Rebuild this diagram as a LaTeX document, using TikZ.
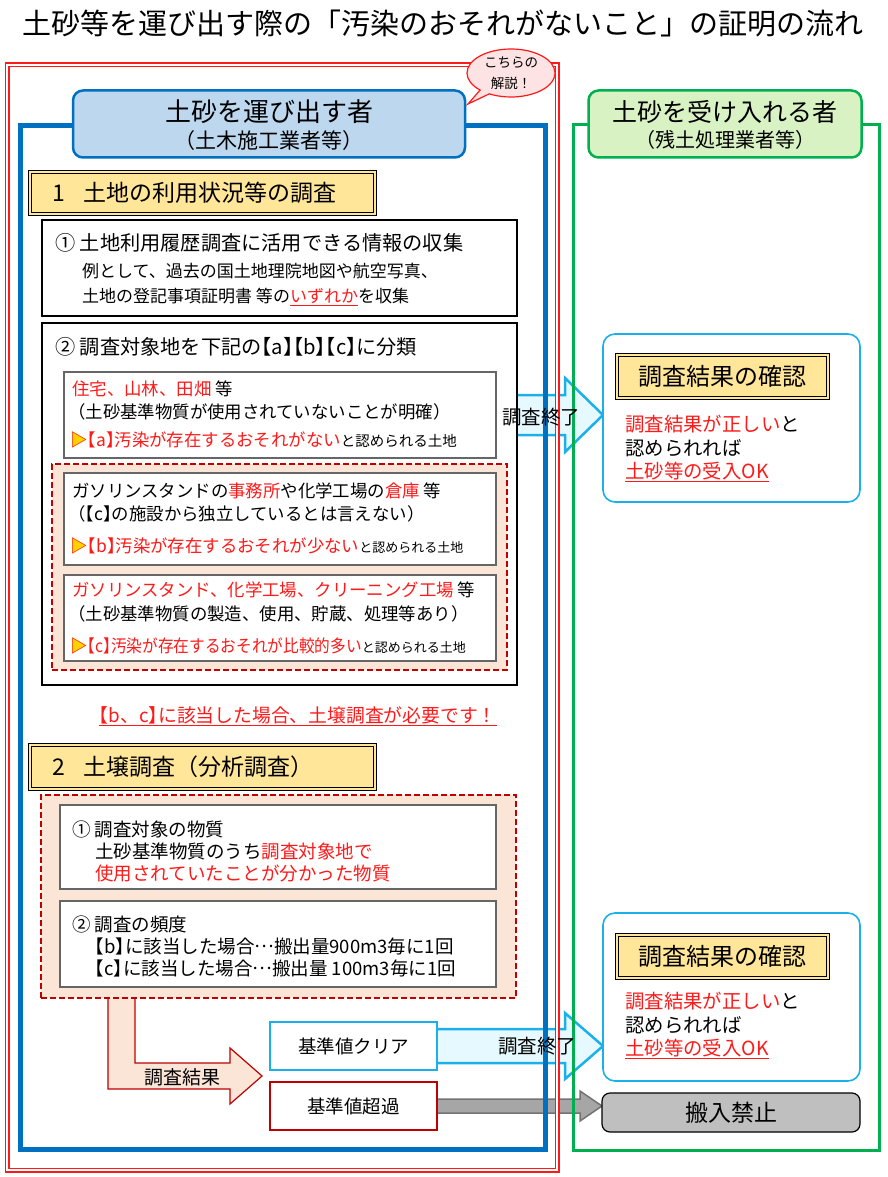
\documentclass[tikz,border=0pt]{standalone}
\usepackage{fontspec}
\setmainfont{Noto Sans CJK JP}
\newfontfamily\haltfont{Noto Sans CJK JP}[CharacterWidth=AlternateHalf]
\usepackage{graphicx}
\usetikzlibrary{calc,backgrounds,shapes.callouts}

\definecolor{frameblue}{HTML}{0070C0}
\definecolor{headblue}{HTML}{BDD7EE}
\definecolor{framegreen}{HTML}{00B050}
\definecolor{headgreen}{HTML}{D8F2C4}
\definecolor{titleyellow}{HTML}{FFE699}
\definecolor{peach}{HTML}{FBE5D6}
\definecolor{darkred}{HTML}{C00000}
\definecolor{skyline}{HTML}{1CB0EA}
\definecolor{skyfill}{HTML}{E6F9FF}
\definecolor{txtred}{HTML}{FF1A1A}
\definecolor{bubblepink}{HTML}{FDE3E3}
\definecolor{tri}{HTML}{FFD200}

\newcommand{\fsz}[1]{\fontsize{#1}{#1}\selectfont}
\newcommand{\rd}[1]{\textcolor{txtred}{#1}}
\newcommand{\bk}[1]{{\haltfont【}#1{\haltfont】}}
\newcommand{\cdotsjp}{\raisebox{0.3em}{…}}
\newcommand{\marktri}{\rlap{\textcolor{tri}{▶}}\textcolor{txtred}{▷}}

\tikzset{
  box/.style={draw, anchor=north west, inner sep=0pt, outer sep=0pt, fill=white},
  sect/.style={box, line width=1.2pt, double=titleyellow, double distance=1.6pt, fill=titleyellow},
  region/.style={box, draw=darkred, fill=peach, line width=2pt, dash pattern=on 6pt off 3pt},
  chk/.style={box, draw=skyline, line width=1.6pt, rounded corners=12pt},
  txt/.style={anchor=west, inner sep=0pt},
  blockarrow/.style={draw=skyline, fill=skyfill, line width=2.5pt, line join=miter},
}

\begin{document}
\begin{tikzpicture}[x=1pt,y=-1pt]
\useasboundingbox (0,0) rectangle (887,1177);

\node[font=\fsz{29}] (title) at (443,23) {土砂等を運び出す際の「汚染のおそれがないこと」の証明の流れ};

% headers
\node[box, anchor=center, draw=frameblue, fill=headblue, line width=2.5pt, rounded corners=10pt, minimum width=392, minimum height=67] (carrier) at (269,124) {};
\node[font=\fsz{26}] (carrierA) at (269,112) {土砂を運び出す者};
\node[font=\fsz{21}] (carrierB) at (269,141) {（土木施工業者等）};
\node[box, anchor=center, draw=framegreen, fill=headgreen, line width=2.5pt, rounded corners=10pt, minimum width=273, minimum height=67] (receiver) at (725,124) {};
\node[font=\fsz{25}] (receiverA) at (725,112) {土砂を受け入れる者};
\node[font=\fsz{20}] (receiverB) at (725,140) {（残土処理業者等）};
\node[ellipse callout, draw=txtred, fill=bubblepink, line width=1.2pt, inner sep=0pt, minimum width=88, minimum height=48,
  callout absolute pointer={(468,104)}, align=center, font={\fontsize{13.5}{21}\selectfont}] (memo) at (511,73) {こちらの\\解説！};

% 1
\node[sect, minimum width=345, minimum height=42] (sec1) at (30,172) {};
\node[txt, font=\fsz{23}] (sec1t) at (52,193) {1\hspace{0.8em}土地の利用状況等の調査};
\node[box, line width=1.5pt, minimum width=475, minimum height=96] (info) at (42,220) {};
\node[txt, font=\fsz{20.2}] (infoA) at (55,243) {① 土地利用履歴調査に活用できる情報の収集};
\node[txt, font=\fsz{17}] (infoB) at (82,271) {例として、過去の国土地理院地図や航空写真、};
\node[txt, font=\fsz{17}] (infoC) at (82,297) {土地の登記事項証明書 等の\rd{\underline{いずれか}}を収集};

\node[box, line width=1.5pt, minimum width=475, minimum height=362] (classify) at (42,323) {};
\node[txt, font=\fsz{20.2}] (classifyT) at (55,347) {② 調査対象地を下記の\bk{a}\bk{b}\bk{c}に分類};
\node[box, draw=black!60, line width=1.2pt, minimum width=432, minimum height=86] (boxa) at (64,372) {};
\node[txt, font=\fsz{17.4}] (boxaA) at (72,389) {\rd{住宅、山林、田畑} 等};
\node[txt, font=\fsz{17.4}] (boxaB) at (68,412) {（土砂基準物質が使用されていないことが明確）};
\node[txt, font=\fsz{17.4}] (boxaC) at (70,440) {\marktri\rd{\bk{a}汚染が存在するおそれがない}{\fsz{14.5}と認められる土地}};

\node[region, minimum width=455, minimum height=206] (reg1) at (52,464) {};
\node[box, draw=black!60, line width=1.2pt, minimum width=432, minimum height=92] (boxb) at (64,473) {};
\node[txt, font=\fsz{17.4}] (boxbA) at (72,491) {ガソリンスタンドの\rd{事務所}や化学工場の\rd{倉庫} 等};
\node[txt, font=\fsz{17.4}] (boxbB) at (68,514) {（\bk{c}の施設から独立しているとは言えない）};
\node[txt, font=\fsz{17.4}] (boxbC) at (70,546) {\marktri\rd{\bk{b}汚染が存在するおそれが少ない}{\fsz{13}と認められる土地}};
\node[box, draw=black!60, line width=1.2pt, minimum width=432, minimum height=86] (boxc) at (64,575) {};
\node[txt, font=\fsz{17.4}] (boxcA) at (72,590) {\rd{ガソリンスタンド、化学工場、クリーニング工場} 等};
\node[txt, font=\fsz{17.4}] (boxcB) at (68,614) {（土砂基準物質の製造、使用、貯蔵、処理等あり）};
\node[txt, font=\fsz{17.4}] (boxcC) at (70,646) {\marktri\rd{\scalebox{0.9}[1]{\bk{c}汚染が存在するおそれが比較的多い}}{\fsz{13}と認められる土地}};

\node[font=\fsz{18.8}] (need) at (298,716) {\rd{\underline{\bk{b、c}に該当した場合、土壌調査が必要です！}}};

% 2
\node[sect, minimum width=345, minimum height=44] (sec2) at (30,745) {};
\node[txt, font=\fsz{23}] (sec2t) at (52,767) {2\hspace{0.8em}土壌調査（分析調査）};
\node[region, minimum width=475, minimum height=203] (reg2) at (41,795) {};
\node[box, draw=black!60, line width=1.2pt, minimum width=436, minimum height=84] (subst) at (60,805) {};
\node[txt, font=\fsz{18.5}] (substA) at (72,829) {① 調査対象の物質};
\node[txt, font=\fsz{18.5}] (substB) at (95,851) {土砂基準物質のうち\rd{調査対象地で}};
\node[txt, font=\fsz{18.5}] (substC) at (95,873) {\rd{使用されていたことが分かった物質}};
\node[box, draw=black!60, line width=1.2pt, minimum width=436, minimum height=86] (freq) at (60,901) {};
\node[txt, font=\fsz{18.5}] (freqA) at (72,924) {② 調査の頻度};
\node[txt, font=\fsz{18.5}] (freqB) at (95,946) {\bk{b}に該当した場合\cdotsjp 搬出量900m3毎に1回};
\node[txt, font=\fsz{18.5}] (freqC) at (95,968) {\bk{c}に該当した場合\cdotsjp 搬出量 100m3毎に1回};

\node[box, draw=skyline, line width=2.5pt, minimum width=167, minimum height=48] (clear) at (270,1022) {};
\node[font=\fsz{18.5}] (clearT) at (clear.center) {基準値クリア};
\node[box, draw=darkred, line width=2.5pt, minimum width=167, minimum height=48] (over) at (270,1082) {};
\node[font=\fsz{18.5}] (overT) at (over.center) {基準値超過};

% right side
\node[chk, minimum width=257, minimum height=168] (chk1) at (603,334) {};
\node[sect, minimum width=211, minimum height=43] (chk1h) at (617,355) {};
\node[font=\fsz{24}] (chk1t) at (chk1h.center) {調査結果の確認};
\node[txt, font=\fsz{19.4}] (ok1a) at (625,424) {\rd{調査結果が正しい}と};
\node[txt, font=\fsz{19.4}] (ok1b) at (625,448) {認められれば};
\node[txt, font=\fsz{19.4}] (ok1c) at (625,472) {\rd{\underline{土砂等の受入OK}}};

\node[chk, minimum width=257, minimum height=168] (chk2) at (603,913) {};
\node[sect, minimum width=211, minimum height=43] (chk2h) at (617,935) {};
\node[font=\fsz{24}] (chk2t) at (chk2h.center) {調査結果の確認};
\node[txt, font=\fsz{19.4}] (ok2a) at (625,1001) {\rd{調査結果が正しい}と};
\node[txt, font=\fsz{19.4}] (ok2b) at (625,1025) {認められれば};
\node[txt, font=\fsz{19.4}] (ok2c) at (625,1049) {\rd{\underline{土砂等の受入OK}}};

\node[box, fill=black!25, line width=1.2pt, rounded corners=8pt, minimum width=258, minimum height=39] (ban) at (602,1093) {};
\node[font=\fsz{23}] (banT) at (ban.center) {搬入禁止};

% arrows and frames
\coordinate (tipA) at (chk1.west |- boxa.east);
\coordinate (tipB) at (chk2.west |- clear.east);
\coordinate (tipC) at (ban.west |- over.east);
\coordinate (tipD) at ($(clear.south west)!.5!(over.north west)+(-8,0)$);
\node[font=\fsz{19.5}] (doneA) at ($(tipA)+(-62,2)$) {調査終了};
\node[font=\fsz{19.5}] (doneB) at ($(tipB)+(-66,0)$) {調査終了};
\node[font=\fsz{19}] (result) at ($(tipD)+(-80,1)$) {調査結果};

\begin{pgfonlayer}{background}
\filldraw[blockarrow] ($(boxa.east)+(-6,-20)$) -- ($(tipA)+(-38,-20)$) -- ($(tipA)+(-38,-37)$) -- (tipA)
  -- ($(tipA)+(-38,37)$) -- ($(tipA)+(-38,20)$) -- ($(boxa.east)+(-6,20)$) -- cycle;
\filldraw[blockarrow] ($(clear.east)+(-6,-17)$) -- ($(tipB)+(-38,-17)$) -- ($(tipB)+(-38,-33)$) -- (tipB)
  -- ($(tipB)+(-38,33)$) -- ($(tipB)+(-38,17)$) -- ($(clear.east)+(-6,17)$) -- cycle;
\filldraw[draw=black!55, fill=black!35, line width=1.5pt] ($(over.east)+(-4,-7)$) -- ($(tipC)+(-22,-7)$) -- ($(tipC)+(-22,-15)$) -- (tipC)
  -- ($(tipC)+(-22,15)$) -- ($(tipC)+(-22,7)$) -- ($(over.east)+(-4,7)$) -- cycle;
\filldraw[draw=darkred, fill=peach, line width=1.2pt] ($(reg2.south west)+(67,-8)$) -- ($(reg2.south west |- tipD)+(67,13)$)
  -- ($(tipD)+(-32,13)$) -- ($(tipD)+(-32,28)$) -- (tipD) -- ($(tipD)+(-32,-28)$) -- ($(tipD)+(-32,-13)$)
  -- ($(reg2.south west |- tipD)+(94,-13)$) -- ($(reg2.south west)+(94,-8)$) -- cycle;
\draw[txtred, line width=1.2pt, double=white, double distance=2.6pt] (7,65) rectangle (557,1170);
\draw[frameblue, line width=5pt] (20,126) rectangle (545,1149);
\draw[framegreen, line width=3pt] (573,125) rectangle (879,1150);
\end{pgfonlayer}
\end{tikzpicture}
\end{document}
